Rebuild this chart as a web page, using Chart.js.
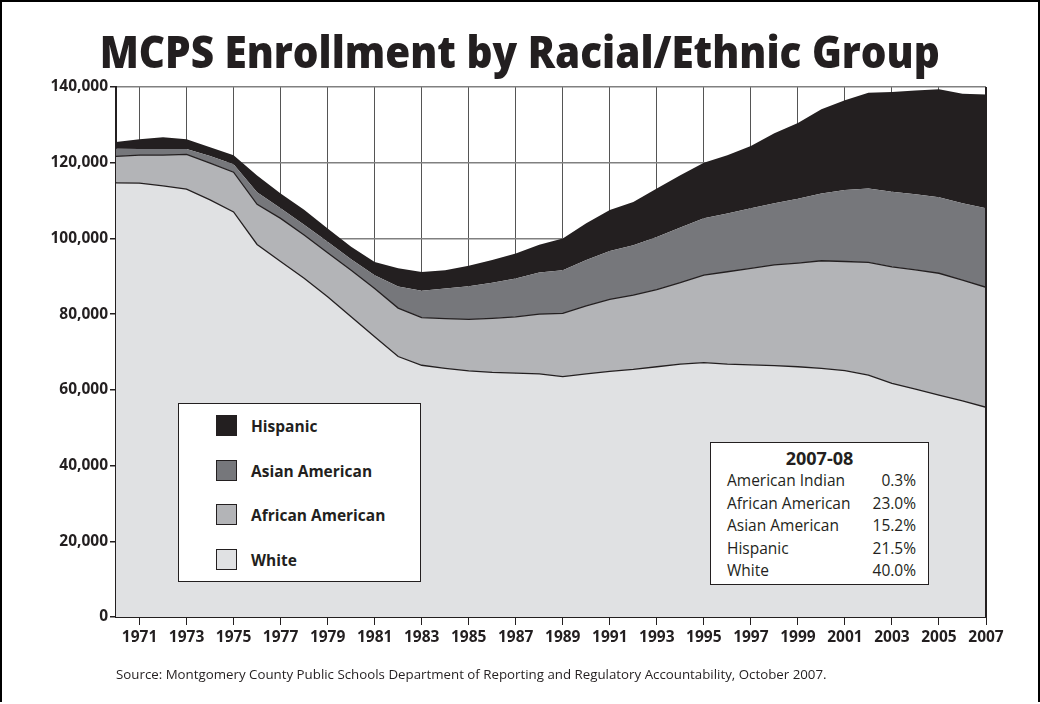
<!DOCTYPE html>
<html>
<head>
<meta charset="utf-8">
<script src="https://cdn.jsdelivr.net/npm/chart.js@4"></script>
<style>
  html, body { margin: 0; padding: 0; background: #fff; }
  #page { position: relative; width: 1036px; height: 700px; border: 2px solid #000; border-bottom: none; overflow: hidden; font-family: "Open Sans", sans-serif; }
  #wrap { position: absolute; left: -2px; top: -2px; width: 1040px; height: 704px; }
  #titulo { position: absolute; left: 0; width: 1036px; top: 19px; text-align: center; font-weight: 800; font-size: 44px; color: #231f20; white-space: nowrap; }
  #titulo span { display: inline-block; transform-origin: center; }
  #fonte { position: absolute; left: 114px; top: 663px; font-size: 13.3px; color: #231f20; }
  #legenda { position: absolute; left: 176px; top: 401px; width: 243px; height: 179px; background: #fff; border: 1.5px solid #231f20; box-sizing: border-box; }
  .item { position: absolute; left: 37px; font-weight: 700; font-size: 15.5px; color: #231f20; height: 22px; line-height: 22px; }
  .item i { display: inline-block; width: 21px; height: 21px; border: 1px solid #231f20; box-sizing: border-box; vertical-align: top; margin-right: 14px; }
  #stats { position: absolute; left: 708px; top: 440px; width: 219px; height: 143px; background: #fff; border: 1.5px solid #231f20; box-sizing: border-box; font-size: 15.5px; color: #231f20; }
  #stats .cab { text-align: center; font-weight: 700; font-size: 18px; margin-top: 5px; line-height: 21px; }
  #stats .linha { position: relative; height: 22.6px; line-height: 22.6px; padding: 0 12px 0 16px; }
  #stats .linha b { position: absolute; right: 12px; top: 0; font-weight: 400; }
</style>
</head>
<body>
<div id="page">
  <div id="wrap"><canvas id="grafico" width="1040" height="704"></canvas></div>
  <div id="titulo"><span>MCPS Enrollment by Racial/Ethnic Group</span></div>
  <div id="legenda"></div>
  <div id="stats"></div>
  <div id="fonte">Source: Montgomery County Public Schools Department of Reporting and Regulatory Accountability, October 2007.</div>
</div>
<script>
// anos letivos (1970 ... 2007)
const anos = [1970,1971,1972,1973,1974,1975,1976,1977,1978,1979,1980,1981,1982,1983,1984,1985,1986,1987,1988,1989,
  1990,1991,1992,1993,1994,1995,1996,1997,1998,1999,2000,2001,2002,2003,2004,2005,2006,2007];

const white = [114700,114600,113900,113000,110200,107000,98400,93900,89500,84600,79300,74000,68800,66500,65700,65000,64600,64400,64200,63500,
  64200,64900,65400,66100,66800,67200,66800,66600,66400,66100,65700,65100,63900,61700,60200,58600,57100,55400];
const africanAmerican = [7000,7400,8100,9200,9700,10500,10600,11400,11400,11600,12300,12800,12800,12600,13100,13600,14300,14900,15800,16700,
  18000,19000,19600,20400,21500,23100,24400,25500,26600,27400,28400,28800,29800,30800,31500,32200,31900,31700];
const asianAmerican = [2000,1600,1600,1400,1900,2100,3200,2700,2700,2900,2900,3500,5700,7100,8000,8800,9400,10100,11000,11400,
  12100,12800,13200,13900,14600,15000,15400,15900,16300,17000,17800,18900,19500,19800,20000,20100,20300,20900];
const hispanic = [1800,2600,3100,2600,2300,2400,4400,3900,4000,3500,3300,3500,4800,4900,4800,5400,6000,6600,7300,8400,
  9700,10800,11400,12800,13800,14700,15400,16400,18500,20000,22200,23700,25300,26400,27400,28500,28900,30000];

const tickAnos = [1971,1973,1975,1977,1979,1981,1983,1985,1987,1989,1991,1993,1995,1997,1999,2001,2003,2005,2007];
const tickY = [0,20000,40000,60000,80000,100000,120000,140000];

const grupos = ["White", "African American", "Asian American", "Hispanic"];
const cores = ["#e0e1e3", "#b3b4b7", "#76777b", "#231f20"];

const resumoRotulos = ["American Indian", "African American", "Asian American", "Hispanic", "White"];
const resumoValores = ["0.3%", "23.0%", "15.2%", "21.5%", "40.0%"];

const pares = serie => anos.map((a, i) => ({ x: a, y: serie[i] }));

const bordaPlot = {
  id: "bordaPlot",
  afterDatasetsDraw(chart) {
    const { ctx, chartArea: a } = chart;
    ctx.save();
    ctx.strokeStyle = "#231f20";
    ctx.lineWidth = 2;
    ctx.beginPath();
    ctx.moveTo(a.right, a.top);
    ctx.lineTo(a.right, a.bottom);
    ctx.stroke();
    ctx.restore();
  }
};

new Chart(document.getElementById("grafico"), {
  type: "line",
  data: {
    datasets: [
      { label: grupos[0], data: pares(white), backgroundColor: cores[0], borderColor: "#231f20", borderWidth: 1.3, fill: "origin" },
      { label: grupos[1], data: pares(africanAmerican), backgroundColor: cores[1], borderColor: "#231f20", borderWidth: 1.3, fill: "-1" },
      { label: grupos[2], data: pares(asianAmerican), backgroundColor: cores[2], borderColor: cores[2], borderWidth: 0, fill: "-1" },
      { label: grupos[3], data: pares(hispanic), backgroundColor: cores[3], borderColor: cores[3], borderWidth: 0, fill: "-1" }
    ]
  },
  options: {
    responsive: false,
    animation: false,
    layout: { padding: { left: 0, top: 87, right: 54, bottom: 47 } },
    elements: { point: { radius: 0 }, line: { tension: 0 } },
    plugins: { legend: { display: false }, tooltip: { enabled: false } },
    scales: {
      x: {
        type: "linear",
        min: 1970,
        max: 2007,
        afterBuildTicks: s => { s.ticks = tickAnos.map(v => ({ value: v })); },
        afterFit: s => { s.height = 40; },
        ticks: {
          color: "#231f20",
          padding: 3,
          maxRotation: 0,
          autoSkip: false,
          font: { family: "Open Sans", weight: "bold", size: 15.5 },
          callback: v => String(v)
        },
        grid: { color: "#555", lineWidth: 1, tickColor: "#231f20", tickLength: 8 },
        border: { color: "#231f20", width: 2 }
      },
      y: {
        stacked: true,
        min: 0,
        max: 140000,
        afterBuildTicks: s => { s.ticks = tickY.map(v => ({ value: v })); },
        afterFit: s => { s.width = 116; },
        ticks: {
          color: "#231f20",
          padding: 2,
          font: { family: "Open Sans", weight: "bold", size: 15.5 },
          callback: v => v.toLocaleString("en-US")
        },
        grid: { color: "#808080", lineWidth: 1.5, tickColor: "#231f20", tickLength: 6 },
        border: { color: "#231f20", width: 2 }
      }
    }
  },
  plugins: [bordaPlot]
});

// legenda (ordem de cima para baixo)
const legenda = document.getElementById("legenda");
[3, 2, 1, 0].forEach((g, k) => {
  const d = document.createElement("div");
  d.className = "item";
  d.style.top = (11 + k * 44.5) + "px";
  d.innerHTML = `<i style="background:${cores[g]}"></i>${grupos[g]}`;
  legenda.appendChild(d);
});

// quadro 2007-08
const stats = document.getElementById("stats");
stats.innerHTML = `<div class="cab">2007-08</div>` +
  resumoRotulos.map((r, i) => `<div class="linha">${r}<b>${resumoValores[i]}</b></div>`).join("");

// ajusta largura do titulo
const t = document.querySelector("#titulo span");
const w = t.getBoundingClientRect().width;
t.style.transform = `scaleX(${840 / w})`;
</script>
</body>
</html>
